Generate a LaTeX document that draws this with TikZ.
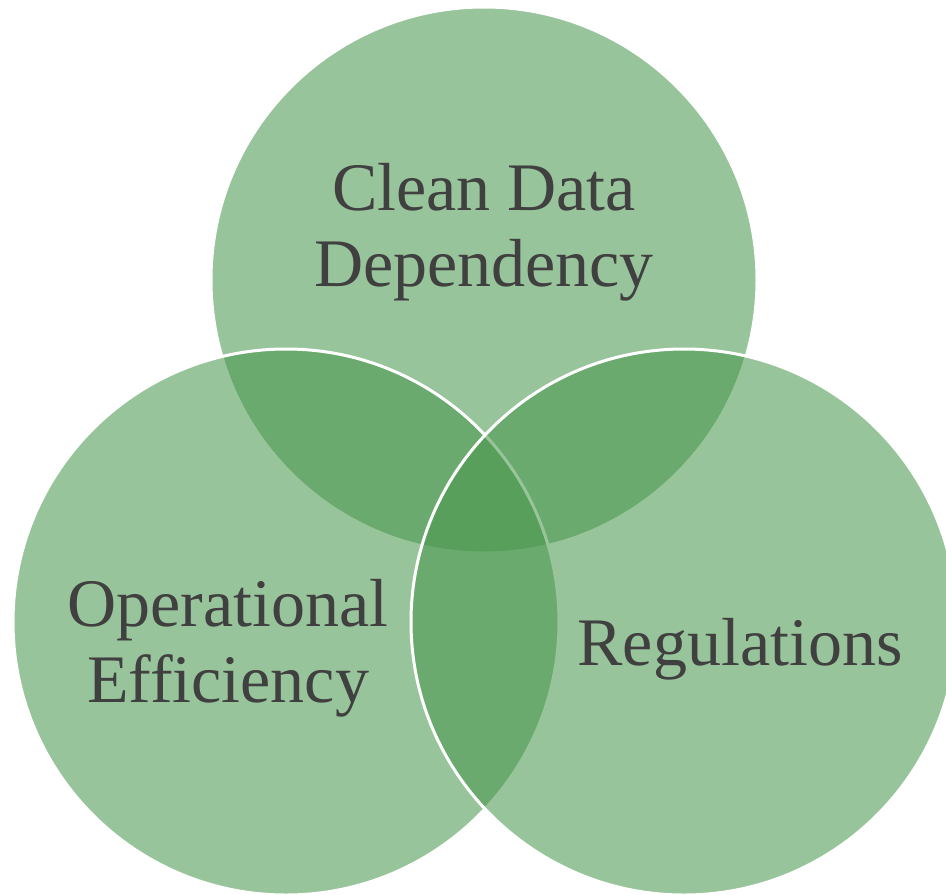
\documentclass[tikz,border=0pt]{standalone}
\usepackage{fontspec}
\setmainfont{Liberation Serif}
\definecolor{venn}{RGB}{72,150,76}
\definecolor{txt}{RGB}{64,64,64}
\begin{document}
\begin{tikzpicture}[x=1pt,y=-1pt,
  setcircle/.style={circle, minimum size=546pt, inner sep=0pt, fill=venn, fill opacity=0.56, draw=white, draw opacity=1, line width=3pt},
  label/.style={text=txt, align=center, font=\fontsize{68}{76}\selectfont, text opacity=1}]
\useasboundingbox (0,0) rectangle (946,895);
\node[setcircle] (top) at (484,280) {};
\node[setcircle] (left) at (286,622) {};
\node[setcircle] (right) at (684,622) {};
\node[label] (ttop) at (484,232) {Clean Data\\Dependency};
\node[label] (tleft) at (228,648) {Operational\\Efficiency};
\node[label] (tright) at (740,649) {Regulations};
\end{tikzpicture}
\end{document}
